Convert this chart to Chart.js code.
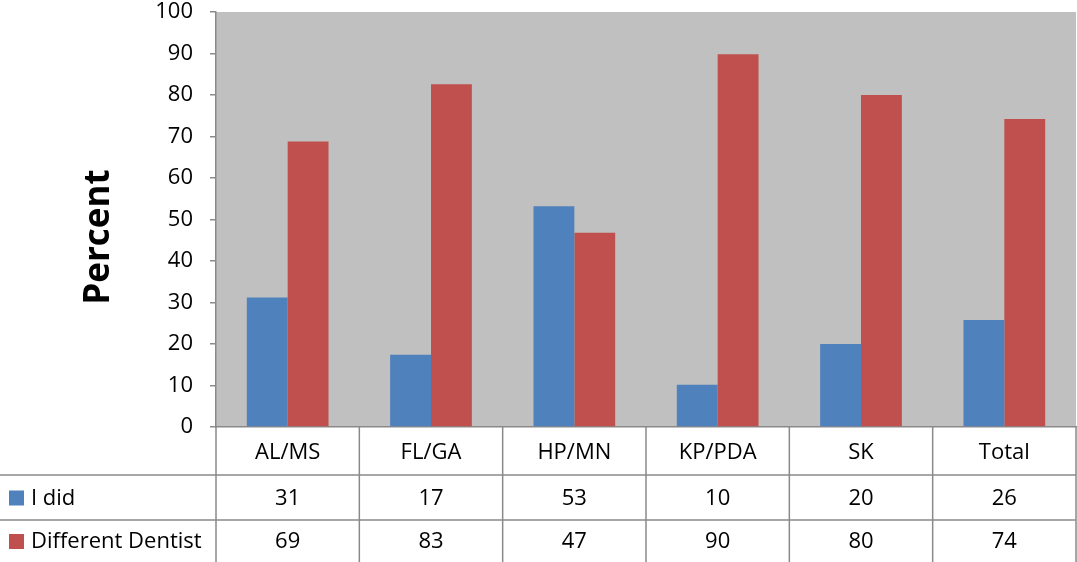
<!DOCTYPE html>
<html>
<head>
<meta charset="utf-8">
<script src="https://cdn.jsdelivr.net/npm/chart.js@4"></script>
<style>
  html, body { margin: 0; padding: 0; background: #fff; }
  #wrap { width: 1077px; height: 562px; }
</style>
</head>
<body>
<div id="wrap"><canvas id="chart"></canvas></div>
<script>
// ---- data ----
const categories = ["AL/MS", "FL/GA", "HP/MN", "KP/PDA", "SK", "Total"];
const iDid = [31.2, 17.4, 53.2, 10.2, 20.0, 25.8];
const differentDentist = [68.8, 82.6, 46.8, 89.8, 80.0, 74.2];
const seriesNames = ["I did", "Different Dentist"];
const seriesColors = ["#4F81BD", "#C0504D"];
const yTicks = [0, 10, 20, 30, 40, 50, 60, 70, 80, 90, 100];

const FONT = "'Open Sans', 'DejaVu Sans', sans-serif";
const LINE = "#8a8a8a";
const ROW_H = [48, 45, 42]; // category row, row 1, row 2

// plot background + data table under the chart
const tablePlugin = {
  id: "tablePlugin",
  beforeDraw(chart) {
    const { ctx, chartArea: a } = chart;
    ctx.save();
    ctx.fillStyle = "#C0C0C0";
    ctx.fillRect(a.left, a.top, a.right - a.left, a.bottom - a.top);
    ctx.restore();
  },
  afterDraw(chart) {
    const { ctx, chartArea: a } = chart;
    const x = chart.scales.x;
    const y1 = a.bottom + ROW_H[0];
    const y2 = y1 + ROW_H[1];
    const y3 = y2 + ROW_H[2];
    const step = (a.right - a.left) / categories.length;

    ctx.save();
    ctx.strokeStyle = LINE;
    ctx.lineWidth = 1.5;
    ctx.beginPath();
    // horizontal row lines
    ctx.moveTo(0, y1); ctx.lineTo(a.right, y1);
    ctx.moveTo(0, y2); ctx.lineTo(a.right, y2);
    // vertical column lines
    for (let i = 0; i <= categories.length; i++) {
      const vx = a.left + i * step;
      ctx.moveTo(vx, a.bottom); ctx.lineTo(vx, y3);
    }
    ctx.stroke();

    // row headers with colour keys
    ctx.font = "22px " + FONT;
    ctx.textBaseline = "middle";
    ctx.fillStyle = "#000";
    const rows = [iDid, differentDentist];
    const mids = [(y1 + y2) / 2 + 1, (y2 + y3) / 2 + 1];
    rows.forEach((vals, r) => {
      ctx.fillStyle = seriesColors[r];
      ctx.fillRect(9, mids[r] - 8, 15, 15);
      ctx.fillStyle = "#000";
      ctx.textAlign = "left";
      ctx.fillText(seriesNames[r], 31, mids[r]);
      ctx.textAlign = "center";
      vals.forEach((v, i) => {
        ctx.fillText(String(Math.round(v)), x.getPixelForValue(i), mids[r]);
      });
    });

    // y axis title
    ctx.translate(99, 237);
    ctx.rotate(-Math.PI / 2);
    ctx.font = "bold 35px " + FONT;
    ctx.textAlign = "center";
    ctx.textBaseline = "middle";
    ctx.fillText("Percent", 0, 0);
    ctx.restore();
  }
};

new Chart(document.getElementById("chart"), {
  type: "bar",
  data: {
    labels: categories,
    datasets: [
      { label: seriesNames[0], data: iDid, backgroundColor: seriesColors[0] },
      { label: seriesNames[1], data: differentDentist, backgroundColor: seriesColors[1] }
    ]
  },
  options: {
    responsive: true,
    maintainAspectRatio: false,
    animation: false,
    layout: { padding: { top: 12, right: 1, bottom: ROW_H[1] + ROW_H[2], left: 0 } },
    datasets: { bar: { categoryPercentage: 0.57, barPercentage: 1.0 } },
    plugins: { legend: { display: false }, tooltip: { enabled: false } },
    scales: {
      x: {
        grid: { display: false },
        border: { display: true, color: LINE, width: 1.5 },
        ticks: { color: "#000", font: { family: FONT, size: 22 }, padding: 5, maxRotation: 0 },
        afterFit(s) { s.height = ROW_H[0]; s.paddingLeft = 0; s.paddingRight = 0; }
      },
      y: {
        min: 0,
        max: 100,
        afterBuildTicks(s) { s.ticks = yTicks.map(v => ({ value: v })); },
        grid: { drawOnChartArea: false, tickLength: 6, color: LINE, lineWidth: 1.5 },
        border: { display: true, color: LINE, width: 1.5 },
        ticks: { color: "#000", font: { family: FONT, size: 22 }, padding: 17 },
        afterFit(s) { s.width = 216; s.paddingTop = 0; s.paddingBottom = 0; }
      }
    }
  },
  plugins: [tablePlugin]
});
</script>
</body>
</html>
